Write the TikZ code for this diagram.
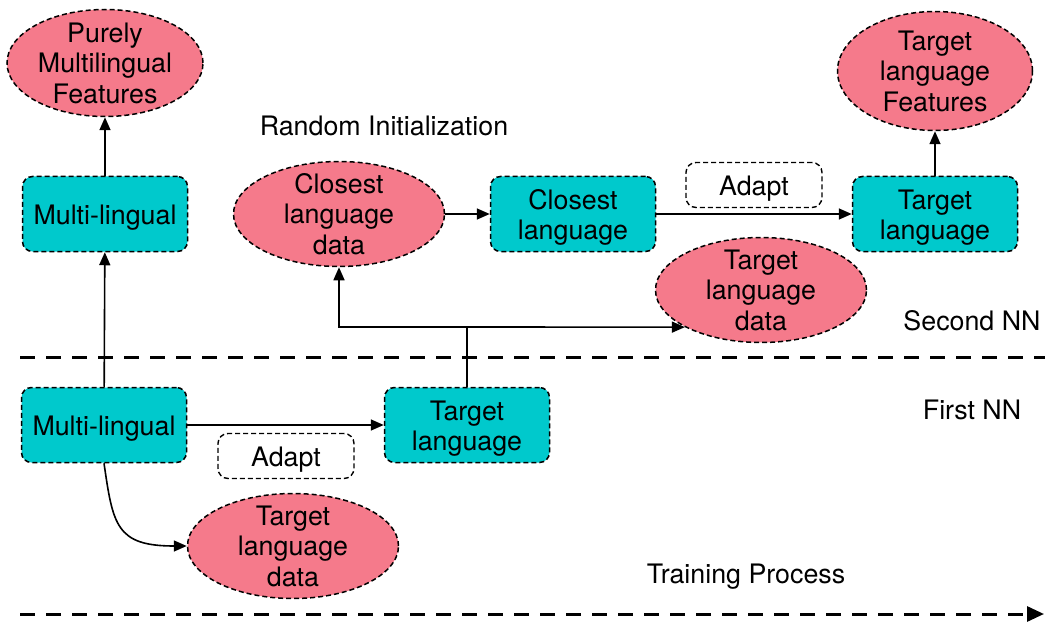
\documentclass[tikz,border=0pt]{standalone}
\usepackage{fontspec}
\setmainfont{TeX Gyre Heros}
\usetikzlibrary{shapes.geometric,arrows.meta}
\definecolor{netcyan}{RGB}{0,201,204}
\definecolor{datapink}{RGB}{245,122,139}
\begin{document}
\begin{tikzpicture}[x=1pt,y=-1pt,
  font=\fontsize{26.8}{30.5}\selectfont,
  every node/.style={align=center},
  every label/.style={align=center, inner sep=0pt},
  txt/.style={label={[yshift=-3.5pt]center:{#1}}},
  etxt/.style={label={center:{#1}}},
  netbox/.style={draw, line width=1.5pt, dash pattern=on 5pt off 3pt,
    rounded corners=10pt, fill=netcyan, minimum width=165pt,
    minimum height=75pt, inner sep=0pt},
  dataell/.style={ellipse, draw, line width=1.5pt, dash pattern=on 5pt off 3pt,
    fill=datapink, minimum width=211pt, minimum height=105pt, inner sep=0pt},
  tagbox/.style={draw, line width=1.4pt, dash pattern=on 5pt off 3pt,
    rounded corners=10pt, minimum width=136pt, minimum height=45pt, inner sep=0pt},
  link/.style={line width=1.6pt, -{Triangle[length=13pt,width=11pt]}},
  stage/.style={line width=3pt, dash pattern=on 15pt off 11pt}]
\useasboundingbox (0,0) rectangle (1045,623);

% second network (upper half)
\node[dataell, minimum width=196pt, minimum height=107pt,
  etxt={Purely\\Multilingual\\Features}] (pmf) at (105,63) {};
\node[netbox, txt={Multi-lingual}] (ml2) at (105,214) {};
\node (rinit) at (384,126) {Random Initialization};
\node[dataell, etxt={Closest\\language\\data}] (cld) at (339,214) {};
\node[netbox, txt={Closest\\language}] (cl) at (573,214) {};
\node[tagbox, txt={Adapt}] (adapt2) at (754,185) {};
\node[netbox, txt={Target\\language}] (tl2) at (935,214) {};
\node[dataell, minimum width=195pt, minimum height=119pt,
  etxt={Target\\language\\Features}] (tlf) at (935,71) {};
\node[dataell, etxt={Target\\language\\data}] (tld2) at (761,290) {};
\node (second) at (972,321) {Second NN};

% first network (lower half)
\node[netbox, txt={Multi-lingual}] (ml1) at (104,425) {};
\node[netbox, txt={Target\\language}] (tl1) at (467,425) {};
\node[tagbox, txt={Adapt}] (adapt1) at (286,456) {};
\node[dataell, etxt={Target\\language\\data}] (tld1) at (293,546) {};
\node (first) at (972,410) {First NN};
\node (train) at (746,577) {Training Process};

% stage separators and time axis
\coordinate (sepL) at (20,357);
\coordinate (sepR) at (1045,357);
\coordinate (axL) at (20,614);
\coordinate (axR) at (1044,614);
\draw[stage] (sepL) -- (sepR);
\draw[stage, -{Triangle[length=17pt,width=15pt]}] (axL) -- (axR);

% connectors
\draw[link] (ml2) -- (pmf);
\draw[link] (ml1) -- (ml2);
\draw[link] (ml1) -- (tl1);
\draw[link] (ml1.south) .. controls (113,525) and (116,546) .. (tld1.west);
\coordinate (split) at (tl1.north |- 0,327);
\draw[line width=1.6pt] (tl1.north) -- (split);
\draw[link] (split) -| (cld.south);
\draw[link] (split) -- (tld2.206);
\draw[link] (cld) -- (cl);
\draw[link] (cl) -- (tl2);
\draw[link] (tl2) -- (tlf);
\end{tikzpicture}
\end{document}
